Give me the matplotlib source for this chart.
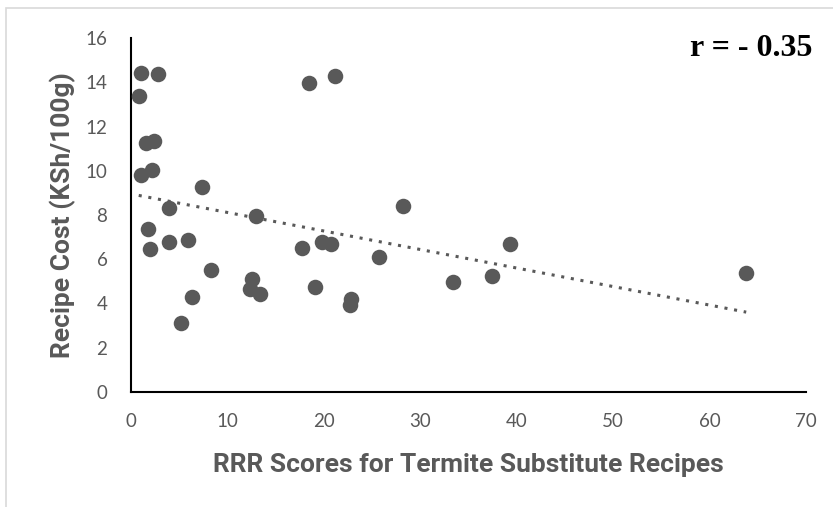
import matplotlib
matplotlib.use("Agg")
from matplotlib import pyplot as plt
from matplotlib.patches import Rectangle
import numpy as np

# RRR score vs. recipe cost for each termite substitute recipe
rrr_scores = [1.0, 2.8, 0.8, 18.5, 21.2, 1.6, 2.4, 1.0, 2.2, 7.4,
              3.9, 13.0, 1.8, 2.0, 3.9, 5.9, 8.3, 6.3, 5.2, 12.5,
              12.3, 13.4, 17.7, 19.8, 20.7, 19.1, 22.8, 22.7, 25.7, 28.2,
              33.4, 37.4, 39.3, 63.8]
recipe_cost = [14.43, 14.39, 13.40, 13.98, 14.30, 11.25, 11.35, 9.80, 10.05, 9.25,
               8.30, 7.95, 7.35, 6.45, 6.80, 6.85, 5.50, 4.30, 3.10, 5.10,
               4.65, 4.45, 6.50, 6.80, 6.68, 4.75, 4.20, 3.95, 6.10, 8.40,
               4.95, 5.25, 6.70, 5.40]

x_ticks = [0, 10, 20, 30, 40, 50, 60, 70]
y_ticks = [0, 2, 4, 6, 8, 10, 12, 14, 16]

tick_font = ['Lato', 'DejaVu Sans']
title_font = ['Roboto', 'DejaVu Sans']
grey = '#595959'

fig = plt.figure(figsize=(8.33, 5.07), dpi=100)
ax = fig.add_axes([131 / 833, 1 - 392 / 507, 675 / 833, 354 / 507])

# outer chart frame
fig.patches.append(Rectangle((6 / 833, -0.1), 1.2, 1 - 8 / 507 + 0.1,
                             transform=fig.transFigure, fill=False,
                             edgecolor='#d9d9d9', linewidth=1.2))

ax.scatter(rrr_scores, recipe_cost, s=125, color='#595959', zorder=3, linewidths=0)

# linear trendline over the data range
slope, intercept = np.polyfit(rrr_scores, recipe_cost, 1)
xs = np.array([min(rrr_scores), max(rrr_scores)])
ax.plot(xs, slope * xs + intercept, linestyle=(0, (1, 2.2)), color='#595959',
        linewidth=2.2, zorder=2)

ax.set_xlim(0, 70)
ax.set_ylim(0, 16)
ax.set_xticks(x_ticks)
ax.set_yticks(y_ticks)
ax.tick_params(length=0, labelsize=13.5, labelcolor=grey)
ax.tick_params(axis='x', pad=15)
ax.tick_params(axis='y', pad=17)
for lab in ax.get_xticklabels() + ax.get_yticklabels():
    lab.set_family(tick_font)

for side in ['top', 'right']:
    ax.spines[side].set_visible(False)
for side in ['left', 'bottom']:
    ax.spines[side].set_linewidth(1.5)
    ax.spines[side].set_color('black')

ax.set_xlabel('RRR Scores for Termite Substitute Recipes', fontsize=19,
              fontweight='bold', color=grey, family=title_font, labelpad=17)
ax.set_ylabel('Recipe Cost (KSh/100g)', fontsize=19, fontweight='bold',
              color=grey, family=title_font, labelpad=7)

fig.text(812 / 833, 1 - 48 / 507, 'r = - 0.35', ha='right', va='center',
         fontsize=23, fontweight='bold', family=['Liberation Serif', 'DejaVu Serif'])

plt.savefig('out.png', dpi=100)
